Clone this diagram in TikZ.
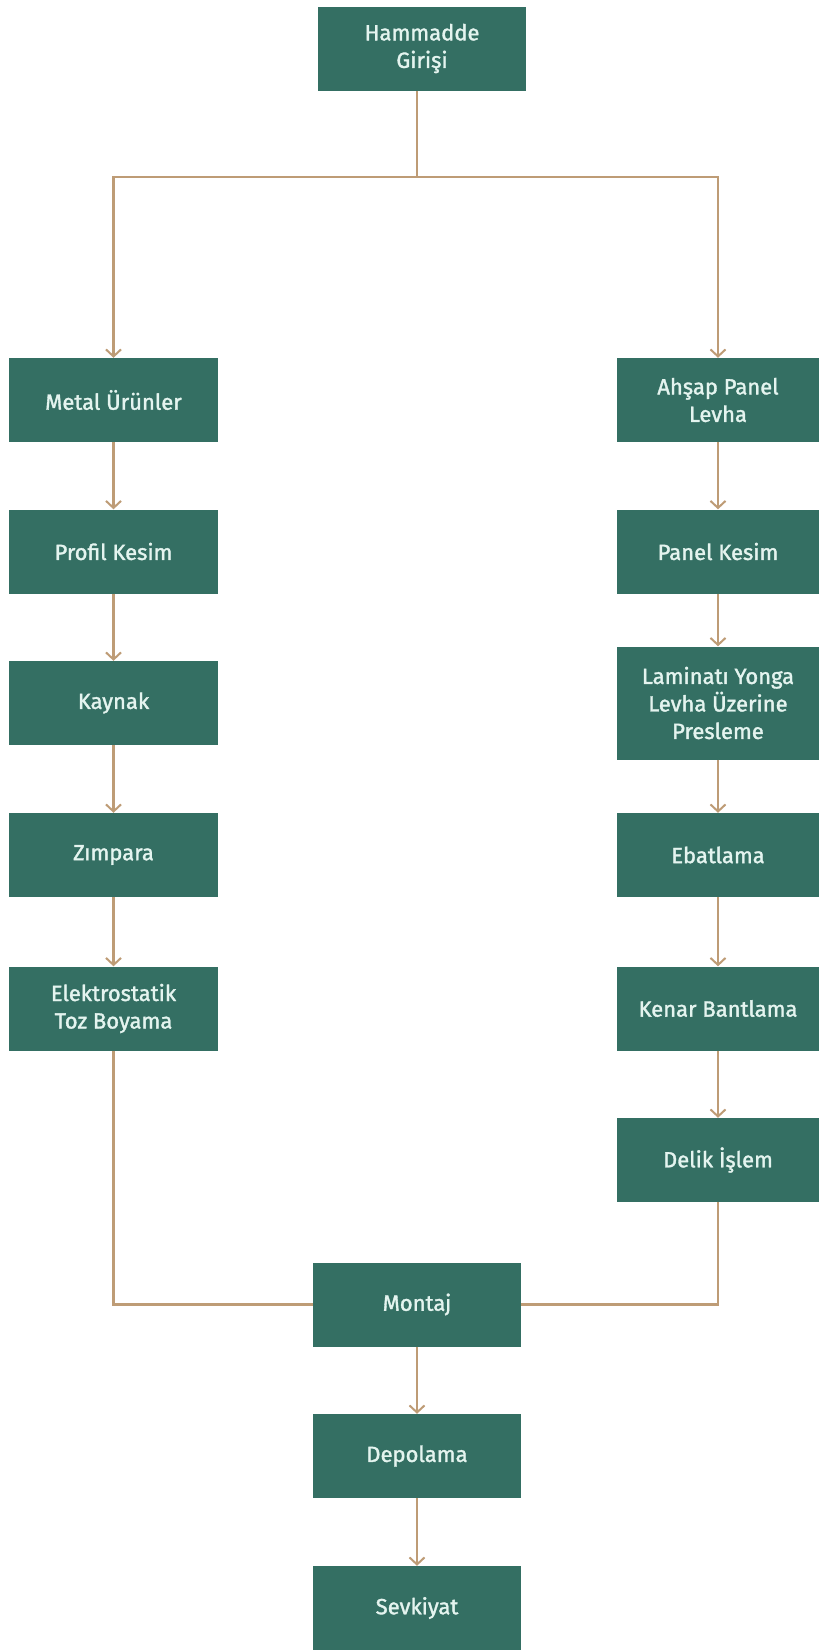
\documentclass[tikz,border=0pt]{standalone}
\usepackage{fontspec}
\setmainfont{Fira Sans}[FakeBold=1.5]
\usetikzlibrary{arrows.meta}
\definecolor{boxfill}{HTML}{346F63}
\definecolor{boxtext}{HTML}{E4F4EF}
\definecolor{linec}{HTML}{BE9C76}
\tikzset{
  box/.style={draw=none, fill=boxfill, text=boxtext, align=center, inner sep=0pt,
    minimum width=208pt, minimum height=84pt, font=\fontsize{22}{27.5}\selectfont},
  conn/.style={draw=linec, line width=2.4pt},
  arr/.style={conn, -{Straight Barb[length=7pt,width=15pt,line width=2pt]}}
}
\begin{document}
\begin{tikzpicture}[x=1pt,y=-1pt]
\useasboundingbox (0,0) rectangle (819,1650);
\node[box] (ham) at (422,48.5) {Hammadde\\Girişi};
% left column
\node[box, minimum width=209pt] (metal) at (113.5,400) {Metal Ürünler};
\node[box, minimum width=209pt] (profil) at (113.5,551.5) {Profil Kesim};
\node[box, minimum width=209pt] (kaynak) at (113.5,703) {Kaynak};
\node[box, minimum width=209pt] (zimpara) at (113.5,855) {Zımpara};
\node[box, minimum width=209pt] (elek) at (113.5,1008.5) {Elektrostatik\\Toz Boyama};
% right column
\node[box, minimum width=202pt] (ahsap) at (718,400) {Ahşap Panel\\Levha};
\node[box, minimum width=202pt] (panel) at (718,551.5) {Panel Kesim};
\node[box, minimum width=202pt, minimum height=113pt] (lamin) at (718,703) {Laminatı Yonga\\Levha Üzerine\\Presleme};
\node[box, minimum width=202pt] (ebat) at (718,855) {Ebatlama};
\node[box, minimum width=202pt] (kenar) at (718,1008.5) {Kenar Bantlama};
\node[box, minimum width=202pt] (delik) at (718,1160) {Delik İşlem};
% bottom
\node[box] (montaj) at (417,1304.5) {Montaj};
\node[box] (depo) at (417,1456) {Depolama};
\node[box] (sevk) at (417,1608) {Sevkiyat};
% connectors
\coordinate (tl) at (113.5,177);
\coordinate (tr) at (718,177);
\coordinate (tm) at (417,177);
\coordinate (hb) at (417,91);
\draw[conn] (hb) -- (tm);
\draw[arr] (tm) -- (tl) -- (metal.north);
\draw[arr] (tm) -- (tr) -- (ahsap.north);
\draw[arr] (metal.south) -- (profil.north);
\draw[arr] (profil.south) -- (kaynak.north);
\draw[arr] (kaynak.south) -- (zimpara.north);
\draw[arr] (zimpara.south) -- (elek.north);
\draw[arr] (ahsap.south) -- (panel.north);
\draw[arr] (panel.south) -- (lamin.north);
\draw[arr] (lamin.south) -- (ebat.north);
\draw[arr] (ebat.south) -- (kenar.north);
\draw[arr] (kenar.south) -- (delik.north);
\draw[conn] (elek.south) |- (montaj.west);
\draw[conn] (delik.south) |- (montaj.east);
\draw[arr] (montaj.south) -- (depo.north);
\draw[arr] (depo.south) -- (sevk.north);
\end{tikzpicture}
\end{document}
